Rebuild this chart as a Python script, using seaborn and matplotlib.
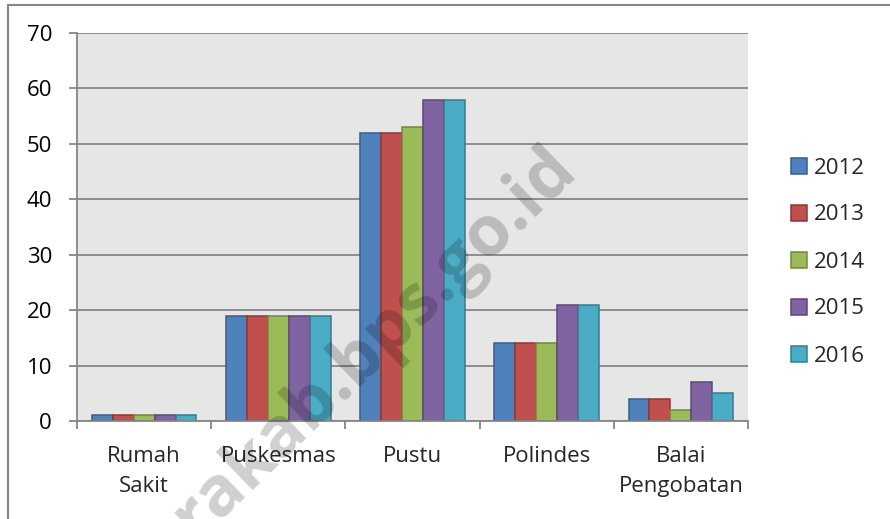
import pandas as pd
import numpy as np
import matplotlib.pyplot as plt
import seaborn as sns
from matplotlib.patches import Patch, Rectangle

# data
categories = ['Rumah\nSakit', 'Puskesmas', 'Pustu', 'Polindes', 'Balai\nPengobatan']
years = ['2012', '2013', '2014', '2015', '2016']
vals_2012 = [1, 19, 52, 14, 4]
vals_2013 = [1, 19, 52, 14, 4]
vals_2014 = [1, 19, 53, 14, 2]
vals_2015 = [1, 19, 58, 21, 7]
vals_2016 = [1, 19, 58, 21, 5]

fills = ['#4F81BD', '#C0504D', '#9BBB59', '#8064A2', '#4BACC6']
edges = ['#385D8A', '#8C3836', '#71893F', '#5C4776', '#357D91']

rows = []
for yr, vals in zip(years, [vals_2012, vals_2013, vals_2014, vals_2015, vals_2016]):
    for cat, v in zip(categories, vals):
        rows.append({'Kategori': cat, 'Tahun': yr, 'Jumlah': v})
data = pd.DataFrame(rows)

sns.set_style('white')
plt.rcParams['font.family'] = ['Open Sans', 'DejaVu Sans']

fig = plt.figure(figsize=(8.9, 5.19), dpi=100)
ax = fig.add_axes([77 / 890, 1 - 421 / 519, (748 - 77) / 890, (421 - 33) / 519])
ax.set_facecolor('#E6E6E6')

sns.barplot(data=data, x='Kategori', y='Jumlah', hue='Tahun', palette=fills,
            width=0.78, saturation=1, legend=False, ax=ax)

for cont, ec in zip(ax.containers, edges):
    for bar in cont:
        bar.set_edgecolor(ec)
        bar.set_linewidth(1.1)

ax.set_ylim(0, 70)
ax.set_xlim(-0.5, 4.5)
ax.set_yticks(range(0, 71, 10))
ax.yaxis.grid(True, color='#868686', linewidth=1.3)
ax.set_axisbelow(True)
ax.set_xlabel('')
ax.set_ylabel('')

for s in ['top', 'right']:
    ax.spines[s].set_visible(False)
for s in ['left', 'bottom']:
    ax.spines[s].set_color('#868686')
    ax.spines[s].set_linewidth(1.3)

ax.tick_params(axis='y', which='major', length=6, width=1.3, color='#868686',
               pad=12, labelsize=16, labelcolor='black', direction='out', left=True)
# category labels sit between boundary ticks
ax.set_xticks(np.arange(-0.5, 5, 1))
ax.set_xticklabels([])
ax.tick_params(axis='x', which='major', length=6, width=1.3, color='#868686',
               direction='out', bottom=True)
ax.set_xticks(range(5), minor=True)
ax.set_xticklabels(categories, minor=True, fontsize=16, linespacing=1.55, va='top')
ax.tick_params(axis='x', which='minor', length=0, pad=18)

handles = [Patch(facecolor=f, edgecolor=e, linewidth=1.1) for f, e in zip(fills, edges)]
fig.legend(handles, years, loc='center left', bbox_to_anchor=(771 / 890, 1 - 262 / 519),
           frameon=False, fontsize=16, handlelength=0.72, handleheight=0.72,
           handletextpad=0.3, labelspacing=1.17)

# outer chart border
fig.patches.append(Rectangle((8 / 890, -0.2), 1.2, 1.2 - 5 / 519,
                             transform=fig.transFigure, fill=False,
                             edgecolor='#868686', linewidth=1.5))

# watermark
fig.text(566 / 890, 1 - 158 / 519, 'lampungutarakab.bps.go.id', fontsize=50,
         fontweight='bold', color='black', alpha=0.19, rotation=44,
         rotation_mode='anchor', ha='right', va='center')

fig.savefig('out.png', dpi=100)
